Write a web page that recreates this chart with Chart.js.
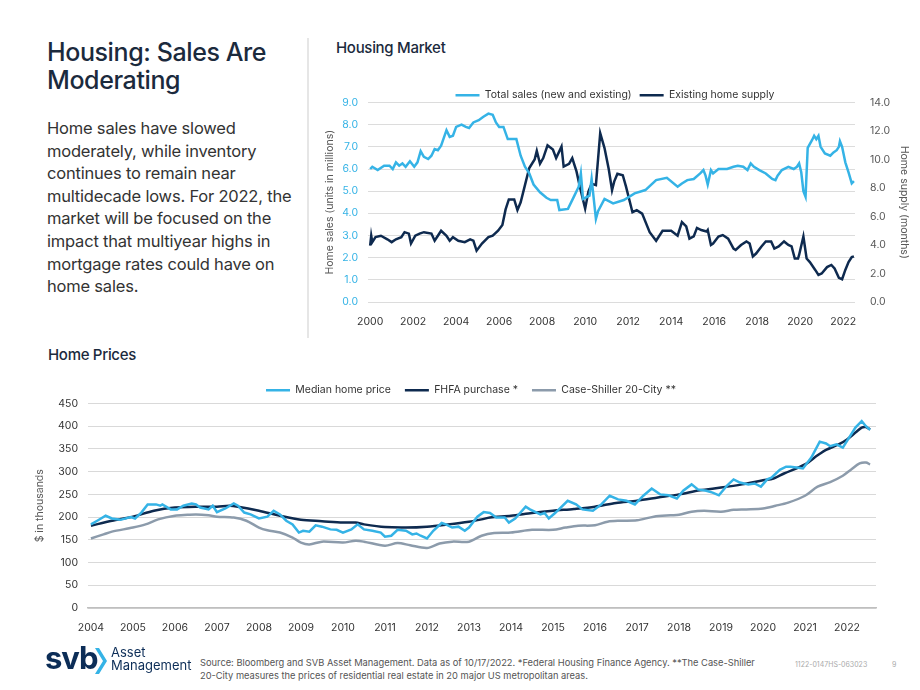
<!DOCTYPE html>
<html><head><meta charset="utf-8">
<script src="https://cdn.jsdelivr.net/npm/chart.js@4.4.1/dist/chart.umd.min.js"></script>
<style>
html,body{margin:0;padding:0;background:#fff;overflow:hidden;}
body{width:920px;height:690px;position:relative;font-family:Inter,"Noto Sans",sans-serif;}
.abs{position:absolute;white-space:nowrap;}
#title{left:47px;top:38px;font-size:25px;line-height:28px;color:#1b2a3d;font-weight:500;letter-spacing:-0.4px;}
#body{left:47px;top:117px;font-size:16.5px;line-height:22.6px;color:#333;letter-spacing:-0.2px;}
#divider{left:307px;top:38px;width:2px;height:300px;background:#e6e6e6;}
#h1{left:336px;top:39px;font-size:15px;line-height:18px;color:#1b2a3d;font-weight:500;letter-spacing:-0.3px;}
#h2{left:48px;top:346px;font-size:15px;line-height:18px;color:#1b2a3d;font-weight:500;letter-spacing:-0.3px;}
#topWrap{left:320px;top:82px;width:590px;height:250px;}
#botWrap{left:30px;top:371px;width:900px;height:269px;}
#logo{left:45px;top:640px;font-size:31px;font-weight:700;color:#0c2d57;letter-spacing:-1px;line-height:36px;}
#chev{left:95px;top:648px;}
#am{left:111px;top:646px;font-size:13px;line-height:12.5px;color:#0c2d57;}
#src{left:200px;top:657px;font-size:9.3px;line-height:12.5px;color:#555;}
#code{left:795px;top:660px;font-size:7px;color:#aaa;}
#pg{left:892px;top:660px;font-size:7px;color:#aaa;}
</style>
</head>
<body>
<div id="title" class="abs">Housing: Sales Are<br>Moderating</div>
<div id="body" class="abs">Home sales have slowed<br>moderately, while inventory<br>continues to remain near<br>multidecade lows. For 2022, the<br>market will be focused on the<br>impact that multiyear highs in<br>mortgage rates could have on<br>home sales.</div>
<div id="divider" class="abs"></div>
<div id="h1" class="abs">Housing Market</div>
<div id="h2" class="abs">Home Prices</div>
<div id="topWrap" class="abs"><canvas id="topChart" width="590" height="250"></canvas></div>
<div id="botWrap" class="abs"><canvas id="botChart" width="900" height="269"></canvas></div>
<div id="logo" class="abs">svb</div>
<svg id="chev" class="abs" width="12" height="26" viewBox="0 0 12 26"><polygon points="0,0 4,0 12,13 4,26 0,26 8,13" fill="#35b3e6"/></svg>
<div id="am" class="abs">Asset<br>Management</div>
<div id="src" class="abs">Source: Bloomberg and SVB Asset Management. Data as of 10/17/2022. *Federal Housing Finance Agency. **The Case-Shiller<br>20-City measures the prices of residential real estate in 20 major US metropolitan areas.</div>
<div id="code" class="abs">1122-0147HS-063023</div>
<div id="pg" class="abs">9</div>
<script>
// ---------- Housing Market (top chart) ----------
const topYearTicks = [2000,2002,2004,2006,2008,2010,2012,2014,2016,2018,2020,2022];
const salesYears = [2000.0,2000.1,2000.35,2000.65,2000.9,2001.05,2001.2,2001.35,2001.5,2001.65,2001.85,2002.05,2002.2,2002.35,2002.5,2002.7,2002.85,2003.0,2003.15,2003.3,2003.55,2003.7,2003.85,2004.0,2004.25,2004.45,2004.6,2004.8,2005.05,2005.25,2005.5,2005.7,2005.85,2006.0,2006.2,2006.4,2006.8,2007.0,2007.2,2007.4,2007.6,2007.9,2008.2,2008.4,2008.7,2008.8,2009.2,2009.5,2009.7,2009.8,2009.9,2010.2,2010.3,2010.5,2010.6,2010.9,2011.3,2011.8,2012.3,2012.8,2013.3,2013.8,2014.3,2014.5,2014.75,2015.05,2015.35,2015.5,2015.6,2015.7,2015.85,2015.95,2016.2,2016.6,2016.9,2017.1,2017.35,2017.55,2017.7,2017.85,2018.1,2018.4,2018.7,2018.85,2018.95,2019.15,2019.45,2019.7,2019.85,2019.95,2020.05,2020.15,2020.25,2020.35,2020.55,2020.65,2020.75,2020.85,2020.95,2021.15,2021.4,2021.55,2021.7,2021.8,2021.85,2021.95,2022.1,2022.25,2022.4,2022.5];
const salesValues = [6.0,6.1,5.95,6.15,6.15,6.0,6.3,6.15,6.25,6.1,6.35,6.1,6.3,6.8,6.55,6.45,6.6,6.9,6.85,7.05,7.75,7.45,7.5,7.9,8.0,7.9,7.85,8.1,8.2,8.35,8.5,8.45,8.1,7.9,7.9,7.35,7.35,6.6,6.1,5.8,5.3,4.95,4.7,4.6,4.6,4.15,4.2,4.8,5.2,5.8,4.65,4.8,5.55,3.75,4.1,4.65,4.45,4.6,4.9,5.05,5.5,5.6,5.2,5.35,5.5,5.55,5.8,5.95,5.7,5.3,5.95,5.8,6.0,6.0,6.1,6.15,6.1,5.95,6.25,6.1,5.95,5.8,5.55,5.5,5.7,5.95,6.1,6.0,6.1,6.25,5.85,5.0,4.75,6.95,7.3,7.5,7.35,7.5,7.0,6.7,6.6,6.75,6.85,7.0,7.25,7.0,6.3,5.85,5.35,5.45];
const supplyYears = [2000.0,2000.05,2000.1,2000.25,2000.5,2000.8,2001.0,2001.2,2001.45,2001.6,2001.8,2001.9,2002.1,2002.3,2002.5,2002.85,2003.0,2003.15,2003.3,2003.55,2003.7,2003.85,2004.1,2004.4,2004.65,2004.8,2004.95,2005.2,2005.5,2005.7,2005.95,2006.15,2006.3,2006.45,2006.7,2006.85,2007.0,2007.2,2007.4,2007.65,2007.75,2007.9,2008.05,2008.25,2008.5,2008.65,2008.9,2009.0,2009.25,2009.4,2009.6,2009.75,2010.0,2010.15,2010.3,2010.5,2010.7,2010.9,2011.1,2011.25,2011.35,2011.5,2011.75,2011.9,2012.2,2012.4,2012.65,2013.0,2013.3,2013.6,2014.0,2014.3,2014.5,2014.7,2014.85,2015.05,2015.2,2015.4,2015.65,2015.7,2015.85,2015.95,2016.2,2016.4,2016.65,2016.9,2017.0,2017.25,2017.5,2017.65,2017.8,2017.95,2018.2,2018.4,2018.65,2018.8,2019.0,2019.25,2019.45,2019.6,2019.75,2019.9,2019.95,2020.15,2020.3,2020.45,2020.7,2020.85,2021.0,2021.25,2021.45,2021.6,2021.8,2021.95,2022.1,2022.25,2022.4,2022.5];
const supplyValues = [3.95,4.65,4.2,4.55,4.65,4.4,4.2,4.4,4.55,4.9,4.8,4.1,4.65,4.8,4.9,4.8,4.3,4.65,5.0,4.65,4.3,4.55,4.3,4.2,4.4,4.3,3.6,4.1,4.55,4.65,5.0,5.4,6.5,7.2,7.2,6.45,7.0,8.2,9.4,10.0,10.6,9.7,10.1,11.0,10.7,10.1,10.9,9.5,9.7,10.1,9.15,8.1,6.55,7.75,8.3,8.2,11.85,10.8,9.3,7.85,8.45,9.0,8.9,8.1,6.3,6.45,6.2,4.9,4.3,5.0,5.0,4.65,5.6,5.3,4.45,4.6,5.2,5.05,4.95,5.05,4.0,4.1,4.6,4.7,4.45,3.75,3.65,4.0,4.25,4.1,3.2,3.4,3.9,4.25,4.25,3.75,3.9,4.25,4.0,3.9,3.05,3.05,3.3,4.6,3.05,2.8,2.25,1.9,2.0,2.45,2.6,2.35,1.7,1.6,2.25,2.8,3.15,3.2];

// ---------- Home Prices (bottom chart) ----------
const priceYearTicks = [2004,2005,2006,2007,2008,2009,2010,2011,2012,2013,2014,2015,2016,2017,2018,2019,2020,2021,2022];
const medianYears = [2004.0,2004.15,2004.35,2004.5,2004.7,2004.95,2005.05,2005.2,2005.35,2005.55,2005.65,2005.7,2005.9,2006.05,2006.2,2006.4,2006.5,2006.6,2006.8,2006.9,2007.0,2007.2,2007.4,2007.5,2007.65,2007.8,2008.0,2008.2,2008.35,2008.5,2008.65,2008.8,2008.95,2009.05,2009.2,2009.35,2009.5,2009.7,2009.85,2010.0,2010.2,2010.35,2010.5,2010.7,2010.9,2011.0,2011.15,2011.3,2011.5,2011.65,2011.75,2011.85,2012.0,2012.15,2012.35,2012.45,2012.6,2012.75,2012.9,2013.0,2013.2,2013.35,2013.5,2013.65,2013.85,2013.95,2014.1,2014.35,2014.45,2014.7,2014.8,2014.9,2015.05,2015.35,2015.55,2015.7,2015.95,2016.15,2016.35,2016.55,2016.75,2016.95,2017.15,2017.35,2017.55,2017.75,2017.95,2018.1,2018.3,2018.45,2018.65,2018.8,2018.95,2019.15,2019.3,2019.45,2019.65,2019.8,2019.95,2020.1,2020.2,2020.4,2020.55,2020.65,2020.8,2020.95,2021.15,2021.35,2021.5,2021.6,2021.75,2021.9,2022.05,2022.2,2022.35,2022.45,2022.55];
const medianValues = [184,192,203,197,194,200,197,210,228,228,225,228,217,217,225,230,228,221,217,225,211,219,230,225,210,206,197,201,214,206,192,184,166,170,168,182,179,173,172,166,173,184,173,170,166,157,159,172,170,162,164,159,153,170,187,184,177,179,170,177,201,211,209,199,199,188,197,223,217,206,209,197,209,236,228,217,214,228,247,239,236,228,247,263,250,248,241,258,272,261,258,254,248,270,283,276,272,274,267,283,287,304,311,311,309,307,331,366,362,356,360,353,375,397,411,400,392];
const fhfaYears = [2004.0,2004.5,2005.0,2005.5,2006.0,2006.5,2007.0,2007.3,2007.5,2008.0,2008.5,2009.0,2009.5,2010.0,2010.3,2010.5,2011.0,2011.5,2012.0,2012.5,2013.0,2013.3,2013.5,2014.0,2014.5,2015.0,2015.5,2016.0,2016.5,2017.0,2017.5,2018.0,2018.5,2019.0,2019.5,2020.0,2020.25,2020.5,2021.0,2021.3,2021.5,2021.8,2022.0,2022.2,2022.35,2022.45,2022.55];
const fhfaValues = [181,192,201,214,221,223,223,225,223,214,203,194,191,188,188,184,178,177,179,184,190,195,199,203,209,214,218,223,231,236,243,250,259,265,272,281,285,296,316,336,348,360,371,386,397,398,393];
const csYears = [2004.0,2004.3,2004.5,2005.0,2005.3,2005.6,2006.0,2006.3,2006.5,2006.8,2007.0,2007.4,2007.7,2008.0,2008.2,2008.5,2008.8,2009.0,2009.2,2009.5,2010.0,2010.3,2010.5,2011.0,2011.3,2011.6,2012.0,2012.3,2012.6,2013.0,2013.3,2013.6,2014.0,2014.5,2015.0,2015.3,2015.6,2016.0,2016.3,2016.6,2017.0,2017.4,2017.8,2018.0,2018.3,2018.6,2019.0,2019.3,2019.6,2020.0,2020.3,2020.6,2021.0,2021.3,2021.6,2021.9,2022.1,2022.3,2022.45,2022.55];
const csValues = [153,162,168,177,184,195,203,205,206,204,201,199,192,177,171,166,155,144,140,146,144,148,146,137,143,138,132,142,146,146,159,165,166,172,172,177,181,182,190,192,193,201,204,205,212,214,212,216,217,219,225,232,247,267,277,291,305,318,320,316];

const LIGHT = '#35b3e6', NAVY = '#0e2a4f', GREY = '#8c9bab';
const FONT = 'Inter, "Noto Sans", sans-serif';
const pts = (xs, ys) => xs.map((x, i) => ({x: x, y: ys[i]}));
Chart.defaults.font.family = FONT;
Chart.defaults.font.size = 10.5;
Chart.defaults.color = '#333';

// trims the empty space under the legend (trim) and narrows its box on the right (narrow)
const legendTrim = (trim, narrow) => ({
  id: 'legendTrim',
  afterInit(chart) {
    const lg = chart.legend;
    if (!lg) return;
    const orig = lg.fit;
    lg.fit = function () { orig.call(this); this.height = Math.max(0, this.height - trim); };
  },
  afterLayout(chart) {
    const lg = chart.legend;
    if (!lg || !narrow) return;
    lg.right -= narrow; lg.width -= narrow;
  }
});

const legendOpts = (fullSize, pad) => ({
  position: 'top', fullSize: fullSize,
  labels: {usePointStyle: true, pointStyle: 'line', pointStyleWidth: 24, boxHeight: 10, padding: pad, color: '#333', font: {size: 10.5}}
});

new Chart(document.getElementById('topChart'), {
  type: 'line',
  data: {datasets: [
    {label: 'Total sales (new and existing)', data: pts(salesYears, salesValues), borderColor: LIGHT, backgroundColor: LIGHT, borderWidth: 2.5, pointRadius: 0, tension: 0, yAxisID: 'y'},
    {label: 'Existing home supply', data: pts(supplyYears, supplyValues), borderColor: NAVY, backgroundColor: NAVY, borderWidth: 2.5, pointRadius: 0, tension: 0, yAxisID: 'y1'}
  ]},
  plugins: [legendTrim(8, 0)],
  options: {
    responsive: false, animation: false,
    layout: {padding: 0},
    plugins: {legend: legendOpts(true, 8), tooltip: {enabled: false}},
    scales: {
      x: {type: 'linear', min: 1999.9, max: 2022.55,
          afterBuildTicks: s => { s.ticks = topYearTicks.map(v => ({value: v})); },
          ticks: {callback: v => String(v), autoSkip: false, maxRotation: 0, color: '#333', padding: 6},
          grid: {display: false}, border: {display: false},
          afterFit: s => { s.height = 30; }},
      y: {min: 0, max: 9,
          ticks: {stepSize: 1, callback: v => v.toFixed(1), color: LIGHT, padding: 10},
          grid: {color: '#dcdcdc', drawTicks: false}, border: {display: false},
          title: {display: true, text: 'Home sales (units in millions)', color: '#595959', font: {size: 10.5}, padding: {top: 4, bottom: 0}},
          afterFit: s => { s.width = 48; }},
      y1: {position: 'right', min: 0, max: 14,
          ticks: {stepSize: 2, callback: v => v.toFixed(1), color: '#595959', padding: 7},
          grid: {display: false}, border: {display: false},
          title: {display: true, text: 'Home supply (months)', color: '#595959', font: {size: 10.5}, padding: 0},
          afterFit: s => { s.width = 55; }}
    }
  }
});

new Chart(document.getElementById('botChart'), {
  type: 'line',
  data: {datasets: [
    {label: 'Median home price', data: pts(medianYears, medianValues), borderColor: LIGHT, backgroundColor: LIGHT, borderWidth: 2.5, pointRadius: 0, tension: 0},
    {label: 'FHFA purchase *', data: pts(fhfaYears, fhfaValues), borderColor: NAVY, backgroundColor: NAVY, borderWidth: 2.5, pointRadius: 0, tension: 0.3},
    {label: 'Case-Shiller 20-City **', data: pts(csYears, csValues), borderColor: GREY, backgroundColor: GREY, borderWidth: 2.5, pointRadius: 0, tension: 0.3}
  ]},
  plugins: [legendTrim(2, 22)],
  options: {
    responsive: false, animation: false,
    layout: {padding: {left: 0, right: 54, top: 0, bottom: 0}},
    plugins: {legend: legendOpts(false, 14), tooltip: {enabled: false}},
    scales: {
      x: {type: 'linear', min: 2003.93, max: 2022.69,
          afterBuildTicks: s => { s.ticks = priceYearTicks.map(v => ({value: v})); },
          ticks: {callback: v => String(v), autoSkip: false, maxRotation: 0, color: '#333', padding: 6},
          grid: {display: false}, border: {display: true, color: '#bfbfbf', width: 1.5},
          afterFit: s => { s.height = 32; }},
      y: {min: 0, max: 450,
          ticks: {stepSize: 50, color: '#333', padding: 10},
          grid: {color: '#d9d9d9', drawTicks: false}, border: {display: false},
          title: {display: true, text: '$ in thousands', color: '#595959', font: {size: 10.5}, padding: {top: 4, bottom: 0}},
          afterFit: s => { s.width = 58; }}
    }
  }
});
</script>
</body></html>
